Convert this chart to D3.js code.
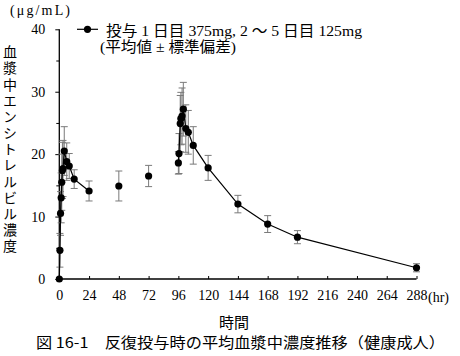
<!DOCTYPE html>
<html><head><meta charset="utf-8">
<script src="https://cdn.jsdelivr.net/npm/d3@7"></script>
<style>
html,body{margin:0;padding:0;background:#fff;}
svg{display:block;}
text{font-family:"Liberation Serif","Noto Sans CJK JP",serif;fill:#000;}
.jp{font-family:"Noto Sans CJK JP","Liberation Serif",sans-serif;}
</style></head>
<body>
<svg id="c" width="460" height="356"></svg>
<script>
// time after first dose (hr)
const times = [0, 0.5, 1, 1.5, 2, 2.5, 3, 4, 6, 8, 12, 24, 48, 72, 96, 96.5, 97.5, 98, 99, 100, 102, 104, 108, 120, 144, 168, 192, 288];
// mean plasma concentration (μg/mL)
const means = [0, 4.6, 10.5, 13.0, 15.5, 17.4, 17.7, 20.5, 18.8, 18.1, 16.0, 14.1, 14.9, 16.5, 18.6, 20.1, 24.9, 25.7, 26.1, 27.2, 24.1, 23.5, 21.4, 17.8, 12.0, 8.8, 6.7, 1.8];
// standard deviation
const sds = [0, 2.7, 3.5, 4.0, 4.5, 4.5, 4.5, 3.9, 3.0, 2.0, 1.5, 1.6, 2.4, 1.7, 1.8, 3.2, 4.5, 4.2, 4.5, 4.3, 3.8, 3.5, 3.0, 2.0, 1.4, 1.35, 1.05, 0.65];
// connected line segments (points with the same id are joined)
const segment = [0,0,0,0,0,0,0,0,0,0,0,0, 1, 2, 3,3,3,3,3,3,3,3,3,3,3,3,3,3];
const xTicks = [0, 24, 48, 72, 96, 120, 144, 168, 192, 216, 240, 264, 288];
const yTicks = [0, 10, 20, 30, 40];
const yMinorTicks = [5, 15, 25, 35];
const legendText = "投与 1 日目 375mg, 2 ～ 5 日目 125mg";
const legendText2 = "(平均値 ± 標準偏差)";
const yUnit = "(μg/mL)";
const yTitle = "血漿中エンシトレルビル濃度";
const xTitle = "時間";
const xUnit = "(hr)";
const caption = "図 16-1　反復投与時の平均血漿中濃度推移（健康成人）";

const data = times.map((t,i)=>({t, m:means[i], sd:sds[i], seg:segment[i]}));
const svg = d3.select("#c");
const x = d3.scaleLinear().domain([0,288]).range([59.3,416.5]);
const y = d3.scaleLinear().domain([0,40]).range([279,29.3]);

// axes
const xAxis = svg.append("g").attr("transform",`translate(0,${y(0)})`)
  .call(d3.axisBottom(x).tickValues(xTicks).tickSize(-3).tickPadding(8).tickFormat(d3.format("d")));
xAxis.select(".domain").attr("d",`M${x(0)},0H${x(288)}`).attr("stroke","#000").attr("stroke-width",1.3);
xAxis.selectAll(".tick line").attr("stroke","#000");
xAxis.selectAll(".tick text").attr("font-size",14).attr("dy","0.9em");

const yAxis = svg.append("g").attr("transform",`translate(${x(0)},0)`)
  .call(d3.axisLeft(y).tickValues(yTicks).tickSize(4).tickPadding(10).tickFormat(d3.format("d")));
yAxis.select(".domain").attr("d",`M0,${y(40)}V${y(0)}`).attr("stroke","#000").attr("stroke-width",1.3);
yAxis.selectAll(".tick line").attr("stroke","#000");
yAxis.selectAll(".tick text").attr("font-size",14);
svg.append("g").attr("transform",`translate(${x(0)},0)`)
  .call(d3.axisLeft(y).tickValues(yMinorTicks).tickSize(3).tickFormat(""))
  .call(g=>g.select(".domain").remove())
  .selectAll(".tick line").attr("stroke","#000");

// error bars
const eb = svg.append("g").attr("stroke","#7a7a7a").attr("stroke-width",1).attr("fill","none");
data.filter(d=>d.sd>0).forEach(d=>{
  const cx = x(d.t), y1 = y(d.m+d.sd), y2 = y(d.m-d.sd);
  eb.append("line").attr("x1",cx).attr("x2",cx).attr("y1",y1).attr("y2",y2);
  eb.append("line").attr("x1",cx-3.5).attr("x2",cx+3.5).attr("y1",y1).attr("y2",y1);
  eb.append("line").attr("x1",cx-3.5).attr("x2",cx+3.5).attr("y1",y2).attr("y2",y2);
});

// lines
const line = d3.line().x(d=>x(d.t)).y(d=>y(d.m));
d3.groups(data, d=>d.seg).forEach(([k,pts])=>{
  if(pts.length>1) svg.append("path").attr("d",line(pts)).attr("fill","none").attr("stroke","#000").attr("stroke-width",1.2);
});

// points
svg.append("g").selectAll("circle").data(data).join("circle")
  .attr("cx",d=>x(d.t)).attr("cy",d=>y(d.m)).attr("r",3.6).attr("fill","#000");

// legend
svg.append("line").attr("x1",77).attr("x2",98).attr("y1",29.3).attr("y2",29.3).attr("stroke","#000").attr("stroke-width",1.2);
svg.append("circle").attr("cx",87.5).attr("cy",29.3).attr("r",3.6).attr("fill","#000");
svg.append("text").attr("x",106).attr("y",31).attr("dy","0.35em").attr("font-size",15)
  .attr("textLength",256).attr("lengthAdjust","spacingAndGlyphs").text(legendText);
svg.append("text").attr("x",100).attr("y",46.5).attr("dy","0.35em").attr("font-size",15)
  .attr("textLength",136).attr("lengthAdjust","spacingAndGlyphs").text(legendText2);

// titles
svg.append("text").attr("x",10).attr("y",10).attr("dy","0.35em").attr("font-size",14)
  .attr("textLength",60).attr("lengthAdjust","spacing").text(yUnit);
svg.append("text").attr("class","jp").attr("x",10).attr("y",45)
  .attr("font-size",14)
  .attr("textLength",208).attr("lengthAdjust","spacing")
  .attr("style","writing-mode:vertical-rl;text-orientation:upright;").text(yTitle);
svg.append("text").attr("x",428).attr("y",297).attr("dy","0.35em").attr("font-size",14).text(xUnit);
svg.append("text").attr("class","jp").attr("x",234).attr("y",323).attr("dy","0.35em").attr("text-anchor","middle").attr("font-size",15).text(xTitle);
svg.append("text").attr("class","jp").attr("x",36).attr("y",343).attr("dy","0.35em").attr("font-size",15)
  .attr("textLength",409).attr("lengthAdjust","spacingAndGlyphs").text(caption);
</script>
</body></html>
